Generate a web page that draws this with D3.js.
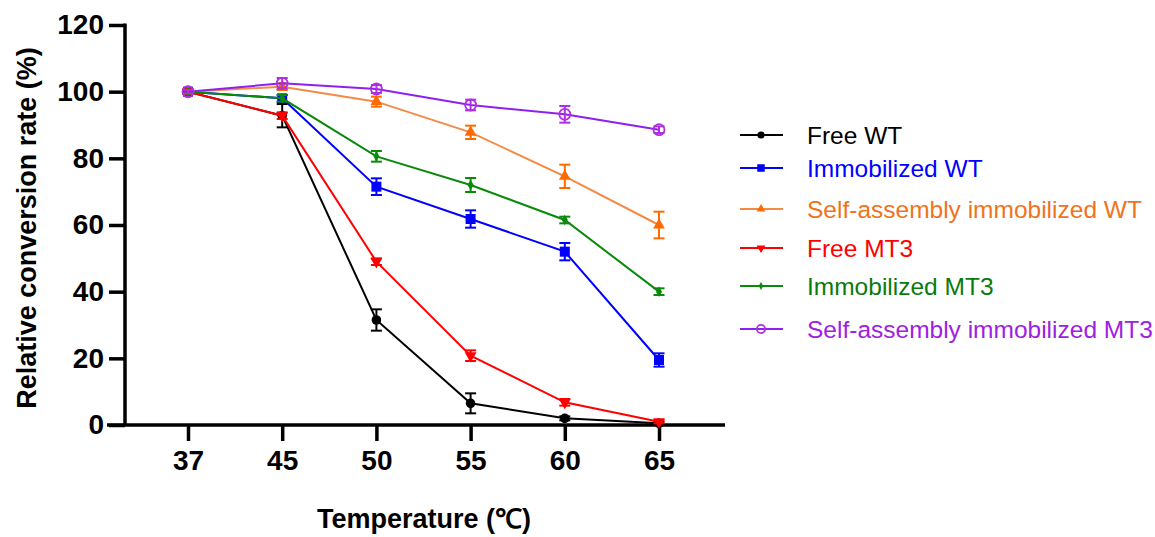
<!DOCTYPE html>
<html>
<head>
<meta charset="utf-8">
<script src="https://cdn.jsdelivr.net/npm/d3@7"></script>
<style>
  body { margin: 0; background: #fff; }
  svg { font-family: "Liberation Sans", Arial, sans-serif; }
</style>
</head>
<body>
<svg id="chart" width="1155" height="537"></svg>
<script>
// temperature categories
const temps = ['37', '45', '50', '55', '60', '65'];
const yTicks = [0, 20, 40, 60, 80, 100, 120];

const seriesNames = ['Free WT', 'Immobilized WT', 'Self-assembly immobilized WT',
  'Free MT3', 'Immobilized MT3', 'Self-assembly immobilized MT3'];

const freeWT = [100, 92.8, 31.5, 6.5, 2, 0.5];
const freeWTErr = [0.5, 3.5, 3.2, 3, 0.6, 0.5];
const immWT = [100, 98, 71.5, 61.8, 52, 19.5];
const immWTErr = [0.5, 1, 2.5, 2.6, 2.6, 2];
const selfWT = [100, 101.5, 97, 87.8, 74.6, 60];
const selfWTErr = [0.5, 1, 1.5, 2, 3.5, 4];
const freeMT3 = [100, 92.8, 49, 20.8, 6.8, 1];
const freeMT3Err = [0.5, 1, 1, 1.6, 1, 0.5];
const immMT3 = [100, 98, 80.6, 72, 61.5, 40];
const immMT3Err = [0.5, 1, 1.6, 2.1, 1, 1];
const selfMT3 = [100, 102.5, 100.8, 96, 93.2, 88.6];
const selfMT3Err = [0.5, 1.6, 1.2, 1.6, 2.5, 1];

const series = [
  {name: seriesNames[0], vals: freeWT, err: freeWTErr, color: '#000000', text: '#000000', sym: 'circle'},
  {name: seriesNames[1], vals: immWT, err: immWTErr, color: '#0000ff', text: '#0000ff', sym: 'square'},
  {name: seriesNames[2], vals: selfWT, err: selfWTErr, color: '#f58a45', mark: '#ff6a00', text: '#f0731c', sym: 'triUp'},
  {name: seriesNames[3], vals: freeMT3, err: freeMT3Err, color: '#ff0000', text: '#ff0000', sym: 'triDown'},
  {name: seriesNames[4], vals: immMT3, err: immMT3Err, color: '#0a8a0a', text: '#0a7a0a', sym: 'diamond'},
  {name: seriesNames[5], vals: selfMT3, err: selfMT3Err, color: '#8f20f0', mark: '#b030e0', text: '#a020e0', sym: 'openCircle'},
];

const svg = d3.select('#chart');

const x = d3.scalePoint().domain(temps).range([188, 659]);
const y = d3.scaleLinear().domain([0, 120]).range([425, 25]);

// axes
const yAxis = svg.append('g')
  .attr('transform', 'translate(125,0)')
  .call(d3.axisLeft(y).tickValues(yTicks).tickSize(16).tickPadding(5).tickSizeOuter(0));
const xAxis = svg.append('g')
  .attr('transform', 'translate(0,425)')
  .call(d3.axisBottom(x).tickSize(16).tickPadding(9).tickSizeOuter(0));
xAxis.select('.domain').attr('d', 'M107,0H725');
yAxis.select('.domain').attr('d', 'M0,23.5V425');

[yAxis, xAxis].forEach(a => {
  a.selectAll('.domain').attr('stroke', '#000').attr('stroke-width', 3.5);
  a.selectAll('.tick line').attr('stroke', '#000').attr('stroke-width', 3.5);
  a.selectAll('.tick text')
    .attr('fill', '#000')
    .style('font-size', '28px')
    .style('font-weight', 'bold')
    .style('font-family', '"Liberation Sans", Arial, sans-serif');
});

// axis titles
svg.append('text')
  .attr('x', 424).attr('y', 528)
  .attr('text-anchor', 'middle')
  .style('font-size', '27px').style('font-weight', 'bold')
  .text('Temperature (℃)');
svg.append('text')
  .attr('transform', 'translate(36,228) rotate(-90)')
  .attr('text-anchor', 'middle')
  .style('font-size', '27px').style('font-weight', 'bold')
  .text('Relative conversion rate (%)');

function drawSymbol(g, sym, cx, cy, color, scale) {
  const s = scale || 1;
  if (sym === 'circle') {
    g.append('circle').attr('cx', cx).attr('cy', cy).attr('r', 4.8 * s).attr('fill', color);
  } else if (sym === 'square') {
    g.append('rect').attr('x', cx - 5 * s).attr('y', cy - 5 * s)
      .attr('width', 10 * s).attr('height', 10 * s).attr('fill', color);
  } else if (sym === 'triUp') {
    g.append('path').attr('transform', `translate(${cx},${cy})`)
      .attr('d', d3.symbol(d3.symbolTriangle, 60 * s * s)()).attr('fill', color);
  } else if (sym === 'triDown') {
    g.append('path').attr('transform', `translate(${cx},${cy}) rotate(180)`)
      .attr('d', d3.symbol(d3.symbolTriangle, 60 * s * s)()).attr('fill', color);
  } else if (sym === 'diamond') {
    g.append('path').attr('transform', `translate(${cx},${cy})`)
      .attr('d', d3.symbol(d3.symbolDiamond, 32 * s * s)()).attr('fill', color);
  } else if (sym === 'openCircle') {
    g.append('circle').attr('cx', cx).attr('cy', cy).attr('r', 5.5 * s)
      .attr('fill', 'none').attr('stroke', color).attr('stroke-width', 1.8);
  }
}

const line = d3.line().x((d, i) => x(temps[i])).y(d => y(d));

const plot = svg.append('g');
series.forEach(s => {
  const g = plot.append('g');
  const mc = s.mark || s.color;
  g.append('path').datum(s.vals)
    .attr('d', line)
    .attr('fill', 'none').attr('stroke', s.color).attr('stroke-width', 2);
  // error bars
  s.vals.forEach((v, i) => {
    const cx = x(temps[i]);
    const y1 = y(v + s.err[i]), y2 = y(v - s.err[i]);
    g.append('line').attr('x1', cx).attr('x2', cx).attr('y1', y1).attr('y2', y2)
      .attr('stroke', mc).attr('stroke-width', 2);
    [y1, y2].forEach(yy => g.append('line')
      .attr('x1', cx - 5.5).attr('x2', cx + 5.5).attr('y1', yy).attr('y2', yy)
      .attr('stroke', mc).attr('stroke-width', 2));
    drawSymbol(g, s.sym, cx, y(v), mc, 1);
  });
});

// legend
const legendY = [135, 168, 209, 248, 286, 329];
const legend = svg.append('g');
series.forEach((s, i) => {
  const ly = legendY[i];
  const mc = s.mark || s.color;
  legend.append('line').attr('x1', 740).attr('x2', 783).attr('y1', ly).attr('y2', ly)
    .attr('stroke', s.color).attr('stroke-width', 2);
  drawSymbol(legend, s.sym, 761, ly, mc, 0.75);
  legend.append('text')
    .attr('x', 807).attr('y', ly + 8.5)
    .attr('fill', s.text)
    .style('font-size', '24.5px')
    .text(s.name);
});
</script>
</body>
</html>
